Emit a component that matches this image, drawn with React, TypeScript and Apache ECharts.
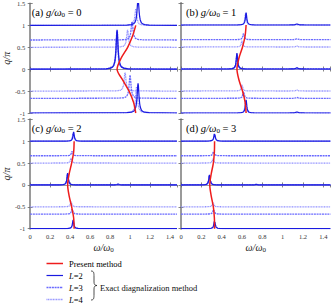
import React, { useEffect, useRef } from "react";
import * as echarts from "echarts";

const FONT = "Liberation Serif";
const X_MAX = 1.47;
const Y_MIN = -1;
const Y_MAX = 1.5;

// baselines (q/pi) for each system size L
const qL2 = [-1, 0, 1];
const qL3 = [-2 / 3, 0, 2 / 3];
const qL4 = [-1, -0.5, 0, 0.5, 1];

// Peaks: [L, q/pi, omega/omega0, height (in q/pi units)]
const peaksA = [
  [2, -1, 1.08, 0.68], [2, 0, 0.87, 0.9], [2, 1, 1.08, 0.62],
  [3, -2 / 3, 1.0, 0.53], [3, 0, 0.868, 0.86], [3, 2 / 3, 1.02, 0.42],
  [4, -1, 1.065, 0.6], [4, -0.5, 0.95, 0.42], [4, 0, 0.872, 0.88], [4, 0.5, 0.975, 0.4], [4, 1, 1.058, 0.38],
];
const peaksB = [
  [2, -1, 0.64, 0.3], [2, 0, 0.55, 0.36], [2, 1, 0.64, 0.28],
  [3, -2 / 3, 0.615, 0.16], [3, 0, 0.55, 0.33], [3, 2 / 3, 0.615, 0.15],
  [4, -1, 0.635, 0.27], [4, -0.5, 0.6, 0.15], [4, 0, 0.55, 0.34], [4, 0.5, 0.6, 0.15], [4, 1, 0.635, 0.26],
  [2, -1, 1.14, 0.025], [2, 0, 1.14, 0.03], [2, 1, 1.14, 0.025],
  [3, -2 / 3, 1.14, 0.02], [3, 2 / 3, 1.14, 0.02], [4, -0.5, 1.14, 0.02], [4, 0.5, 1.14, 0.02],
];
const peaksC = [
  [2, -1, 0.43, 0.2], [2, 0, 0.375, 0.27], [2, 1, 0.435, 0.21],
  [3, -2 / 3, 0.42, 0.12], [3, 0, 0.375, 0.25], [3, 2 / 3, 0.42, 0.11],
  [4, -1, 0.43, 0.18], [4, -0.5, 0.41, 0.12], [4, 0, 0.375, 0.26], [4, 0.5, 0.41, 0.12], [4, 1, 0.43, 0.19],
  [2, 0, 0.88, 0.02],
];
const peaksD = [
  [2, -1, 0.33, 0.18], [2, 0, 0.28, 0.23], [2, 1, 0.33, 0.18],
  [3, -2 / 3, 0.32, 0.11], [3, 0, 0.28, 0.21], [3, 2 / 3, 0.32, 0.1],
  [4, -1, 0.33, 0.17], [4, -0.5, 0.315, 0.1], [4, 0, 0.28, 0.22], [4, 0.5, 0.315, 0.1], [4, 1, 0.33, 0.17],
  [2, 0, 0.74, 0.015],
];

// Present method dispersion: omega(q)
const redQ = [-1, -0.75, -0.5, -0.25, 0, 0.25, 0.5, 0.75, 1];
const redA = [1.057, 1.034, 0.99, 0.927, 0.87, 0.91, 0.976, 1.024, 1.057];
const redB = [0.64, 0.63, 0.605, 0.57, 0.55, 0.57, 0.605, 0.63, 0.64];
const redC = [0.44, 0.435, 0.415, 0.39, 0.375, 0.39, 0.415, 0.435, 0.44];
const redD = [0.33, 0.328, 0.318, 0.297, 0.283, 0.297, 0.318, 0.328, 0.33];

const panelLabels = ["(a)", "(b)", "(c)", "(d)"];
const gValues = ["0", "1", "2", "3"];

// peak line-shape template (offset in widths, relative height)
const SHAPE: [number, number][] = [
  [-10, 0.0099], [-6, 0.027], [-4, 0.059], [-3, 0.1], [-2, 0.2], [-1.5, 0.31], [-1, 0.5],
  [-0.6, 0.74], [-0.3, 0.92], [0, 1], [0.3, 0.92], [0.6, 0.74], [1, 0.5], [1.5, 0.31],
  [2, 0.2], [3, 0.1], [4, 0.059], [6, 0.027], [10, 0.0099],
];

const COLORS: any = { 2: "#1a1ae0", 3: "#6a6aff", 4: "#8f8fff", red: "#ee1c1c", frame: "#9a9a9a" };
const DASH: Record<number, any> = { 2: "solid", 3: [2, 0.7], 4: [1, 0.6] };
const LW: Record<number, number> = { 2: 1.2, 3: 1.3, 4: 1.3 };

function spectrum(L: number, q: number, peaks: number[][], width: number) {
  const ps = peaks
    .filter((p) => p[0] === L && Math.abs(p[1] - q) < 1e-6)
    .sort((a, b) => a[2] - b[2]);
  const pts: number[][] = [[0, q]];
  ps.forEach((p) => {
    const w = p[3] < 0.05 ? 0.012 : width;
    SHAPE.forEach(([dx, f]) => pts.push([p[2] + dx * w, q + p[3] * f]));
  });
  pts.push([X_MAX, q]);
  return pts;
}

const grids = [
  { left: 26.7, top: 3, width: 150.3, height: 110 },
  { left: 181, top: 3, width: 149.5, height: 110 },
  { left: 26.7, top: 119.3, width: 150.3, height: 109.4 },
  { left: 181, top: 119.3, width: 149.5, height: 109.4 },
];

export default function App() {
  const ref = useRef<HTMLDivElement>(null);
  useEffect(() => {
    if (!ref.current) return;
    const chart = echarts.init(ref.current, null, { renderer: "svg" });
    const allPeaks = [peaksA, peaksB, peaksC, peaksD];
    const reds = [redA, redB, redC, redD];
    const widths = [0.011, 0.008, 0.008, 0.008];

    const fmtX = (v: number) =>
      Math.abs(v * 5 - Math.round(v * 5)) < 1e-6 ? String(+v.toFixed(1)) : "";
    const tickStyle = { color: "#666", width: 0.8 };
    const labelStyle = { fontSize: 6.5, fontFamily: FONT, color: "#333" };
    const xAxes: any[] = [];
    const yAxes: any[] = [];
    for (let i = 0; i < 4; i++) {
      const bottom = i >= 2;
      const left = i % 2 === 0;
      xAxes.push({
        type: "value", gridIndex: i, min: 0, max: X_MAX, interval: 0.2, position: "bottom",
        axisLine: { show: true, lineStyle: { color: COLORS.frame, width: 1 } },
        axisTick: { show: true, inside: true, length: 2.5, lineStyle: tickStyle },
        axisLabel: { show: bottom, ...labelStyle, margin: 4, formatter: fmtX, showMaxLabel: false },
        splitLine: { show: false },
        name: bottom ? "{i|ω/ω}{s|0}" : "",
        nameLocation: "middle", nameGap: 13,
        nameTextStyle: {
          fontFamily: FONT, color: "#222",
          rich: {
            i: { fontStyle: "italic", fontSize: 10, fontFamily: FONT, color: "#222" },
            s: { fontSize: 7, fontFamily: FONT, color: "#222", padding: [5, 0, 0, 0] },
          },
        },
      });
      yAxes.push({
        type: "value", gridIndex: i, min: Y_MIN, max: Y_MAX, interval: 0.5, position: "left",
        axisLine: { show: true, lineStyle: { color: COLORS.frame, width: 2 } },
        axisTick: { show: true, inside: true, length: 2.5, lineStyle: tickStyle },
        axisLabel: { show: left, ...labelStyle, margin: 5 },
        splitLine: { show: false },
        name: left ? "q/π" : "",
        nameLocation: "middle", nameGap: 13,
        nameTextStyle: { fontFamily: FONT, fontStyle: "italic", fontSize: 10, color: "#222" },
      });
    }
    for (let i = 0; i < 4; i++) {
      xAxes.push({
        type: "value", gridIndex: i, min: 0, max: X_MAX, interval: 0.2, position: "top",
        axisLine: { show: true, lineStyle: { color: COLORS.frame, width: 1 } },
        axisTick: { show: true, inside: true, length: 2.5, lineStyle: tickStyle },
        axisLabel: { show: false }, splitLine: { show: false },
      });
      yAxes.push({
        type: "value", gridIndex: i, min: Y_MIN, max: Y_MAX, interval: 0.5, position: "right",
        axisLine: { show: true, lineStyle: { color: COLORS.frame, width: 1 } },
        axisTick: { show: true, inside: true, length: 2.5, lineStyle: tickStyle },
        axisLabel: { show: false }, splitLine: { show: false },
      });
    }

    const series: any[] = [];
    for (let i = 0; i < 4; i++) {
      const sets: [number, number[]][] = [[4, qL4], [3, qL3], [2, qL2]];
      sets.forEach(([L, qs], k) => {
        qs.forEach((q) => {
          series.push({
            type: "line", xAxisIndex: i, yAxisIndex: i, silent: true, clip: true,
            symbol: "none", showSymbol: false, z: 2 + k,
            data: spectrum(L, q, allPeaks[i], widths[i]),
            lineStyle: { color: COLORS[L], width: LW[L], type: DASH[L] },
          });
        });
      });
      series.push({
        type: "line", xAxisIndex: i, yAxisIndex: i, silent: true, clip: true,
        symbol: "none", showSymbol: false, smooth: 0.3, z: 6,
        data: redQ.map((q, j) => [reds[i][j], q]),
        lineStyle: { color: COLORS.red, width: 1.5 },
      });
    }

    const labelRich = {
      n: { fontFamily: FONT, fontSize: 10.5, color: "#111" },
      i: { fontFamily: FONT, fontSize: 10.5, fontStyle: "italic", color: "#111" },
      s: { fontFamily: FONT, fontSize: 7, color: "#111", padding: [5, 0, 0, 0] },
    };
    const panelTexts = grids.map((g, i) => ({
      type: "text", left: g.left + 5, top: g.top + 4, z: 20,
      style: {
        text: `{n|${panelLabels[i]} }{i|g/ω}{s|0}{n| = ${gValues[i]}}`,
        rich: labelRich,
      },
    }));

    const legRich = {
      n: { fontFamily: FONT, fontSize: 8.5, color: "#111" },
      i: { fontFamily: FONT, fontSize: 8.5, fontStyle: "italic", color: "#111" },
    };
    const legendItems = [
      { y: 263.5, color: COLORS.red, dash: "solid", w: 1.5, text: "{n|Present method}" },
      { y: 275.5, color: COLORS[2], dash: "solid", w: 1.2, text: "{i|L}{n|=2}" },
      { y: 287.5, color: COLORS[3], dash: [2, 0.7], w: 1.3, text: "{i|L}{n|=3}" },
      { y: 299.5, color: COLORS[4], dash: [1, 0.6], w: 1.3, text: "{i|L}{n|=4}" },
    ];
    const legendEls: any[] = [];
    legendItems.forEach((it) => {
      legendEls.push({
        type: "line", shape: { x1: 46.5, y1: it.y, x2: 63, y2: it.y },
        style: { stroke: it.color, lineWidth: it.w, lineDash: it.dash === "solid" ? null : it.dash },
      });
      legendEls.push({
        type: "text", x: 69, y: it.y, style: { text: it.text, rich: legRich, verticalAlign: "middle" },
      });
    });
    echarts.graphic.registerShape(
      "brace",
      echarts.graphic.extendPath(
        "M0,0 C3,0 3,2 3,6 L3,11 C3,13.5 4,14.5 6,14.5 C4,14.5 3,15.5 3,18 L3,23 C3,27 3,29 0,29",
        {}
      ) as any
    );
    legendEls.push({
      type: "brace", x: 91, y: 271, style: { fill: "none", stroke: "#222", lineWidth: 0.8 },
    });
    legendEls.push({
      type: "text", x: 100, y: 287.5,
      style: { text: "Exact diagnalization method", font: `8.5px "${FONT}"`, fill: "#111", verticalAlign: "middle" },
    });

    chart.setOption({
      animation: false,
      backgroundColor: "#fff",
      grid: grids.map((g) => ({ ...g, containLabel: false })),
      xAxis: xAxes,
      yAxis: yAxes,
      series,
      graphic: [...panelTexts, ...legendEls],
    });
    return () => chart.dispose();
  }, []);
  return (
    <div
      ref={ref}
      style={{ position: "fixed", left: 0, top: 0, width: 332, height: 305 }}
    />
  );
}
